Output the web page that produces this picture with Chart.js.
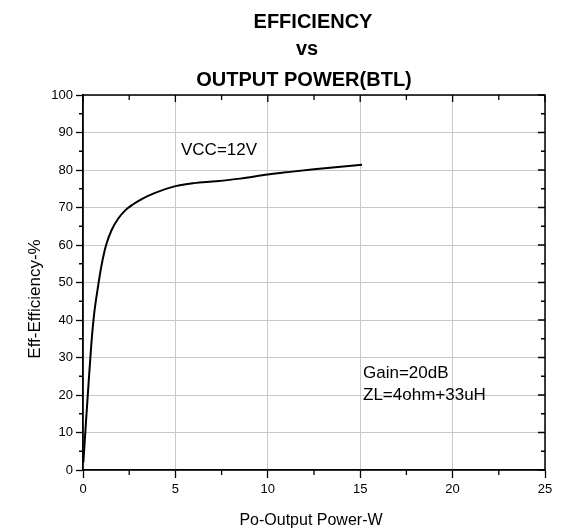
<!DOCTYPE html>
<html>
<head>
<meta charset="utf-8">
<script src="https://cdn.jsdelivr.net/npm/chart.js@4/dist/chart.umd.min.js"></script>
<style>
    html, body { margin: 0; padding: 0; background: #fff; }
    canvas { display: block; }
</style>
</head>
<body>
<canvas id="eff_chart" width="566" height="529"></canvas>
<script>
// values
const output_power = [0.02, 0.15, 0.3, 0.45, 0.6, 0.8, 1.0, 1.25, 1.55, 1.9, 2.3, 2.7, 3.2, 3.9, 5.0, 6.0, 7.2, 8.5, 10.0, 11.2, 12.5, 13.8, 15.1]
const efficiency = [2, 12, 23, 33.5, 41.5, 48.5, 54.5, 60, 64, 67, 69.3, 70.8, 72.3, 73.9, 75.7, 76.5, 77.0, 77.7, 78.8, 79.5, 80.2, 80.8, 81.4]

const x_ticks = [0, 5, 10, 15, 20, 25]
const y_ticks = [0, 10, 20, 30, 40, 50, 60, 70, 80, 90, 100]

const title_lines = ["EFFICIENCY", "vs", "OUTPUT POWER(BTL)"]
const x_title = "Po-Output Power-W"
const y_title = "Eff-Efficiency-%"
const notes = ["VCC=12V", "Gain=20dB", "ZL=4ohm+33uH"]

const FONT = "'Liberation Sans', Arial, sans-serif"

// frame, mirrored ticks, minor ticks and all free text
const decorPlugin = {
    id: "decor",
    afterDraw(chart) {
        const ctx = chart.ctx
        const area = chart.chartArea
        const xs = chart.scales.x
        const ys = chart.scales.y
        ctx.save()

        // top and right frame
        ctx.strokeStyle = "#000"
        ctx.lineWidth = 1.5
        ctx.beginPath()
        ctx.moveTo(area.left, area.top)
        ctx.lineTo(area.right, area.top)
        ctx.lineTo(area.right, area.bottom)
        ctx.stroke()

        ctx.lineWidth = 1.3
        ctx.beginPath()
        // x: major ticks mirrored on top, minor ticks both sides
        for (let v = 0; v <= 25; v += 2.5) {
            const px = xs.getPixelForValue(v)
            const major = v % 5 === 0
            if (!major) {
                ctx.moveTo(px, area.bottom)
                ctx.lineTo(px, area.bottom + 5)
            }
            ctx.moveTo(px, area.top)
            ctx.lineTo(px, area.top + (major ? 7 : 5))
        }
        // y: major ticks mirrored on right, minor ticks both sides
        for (let v = 0; v <= 100; v += 5) {
            const py = ys.getPixelForValue(v)
            const major = v % 10 === 0
            if (!major) {
                ctx.moveTo(area.left, py)
                ctx.lineTo(area.left - 4, py)
            }
            ctx.moveTo(area.right, py)
            ctx.lineTo(area.right - (major ? 7 : 4), py)
        }
        ctx.stroke()

        ctx.fillStyle = "#000"
        ctx.textBaseline = "alphabetic"

        // title
        ctx.textAlign = "center"
        ctx.font = "bold 20px " + FONT
        ctx.fillText(title_lines[0], 313, 28)
        ctx.fillText(title_lines[1], 307, 55)
        ctx.fillText(title_lines[2], 304, 86)

        // axis titles
        ctx.font = "16px " + FONT
        ctx.fillText(x_title, 311, 525)
        ctx.save()
        ctx.translate(40, 299)
        ctx.rotate(-Math.PI / 2)
        ctx.font = "17px " + FONT
        ctx.fillText(y_title, 0, 0)
        ctx.restore()

        // notes
        ctx.textAlign = "left"
        ctx.textBaseline = "middle"
        ctx.font = "17px " + FONT
        ctx.fillText(notes[0], 181, 150)
        ctx.fillText(notes[1], 363, 373)
        ctx.fillText(notes[2], 363, 395)

        ctx.restore()
    }
}

const ctx_eff = document.getElementById("eff_chart").getContext("2d")
const eff_chart = new Chart(ctx_eff, {
    type: "line",
    data: {
        datasets: [{
            label: "Efficiency",
            data: output_power.map((p, i) => ({x: p, y: efficiency[i]})),
            borderColor: "#000",
            borderWidth: 2,
            pointRadius: 0,
            cubicInterpolationMode: "monotone",
            fill: false
        }]
    },
    options: {
        responsive: false,
        animation: false,
        devicePixelRatio: 1,
        layout: {
            padding: {top: 95, right: 21, left: 0, bottom: 0}
        },
        plugins: {
            legend: {display: false},
            tooltip: {enabled: false}
        },
        scales: {
            x: {
                type: "linear",
                min: 0,
                max: 25,
                afterBuildTicks: (scale) => { scale.ticks = x_ticks.map(v => ({value: v})) },
                afterFit: (scale) => { scale.height = 59 },
                ticks: {
                    color: "#000",
                    font: {family: FONT, size: 13},
                    padding: 4,
                    maxRotation: 0
                },
                grid: {
                    color: "#c8c8c8",
                    lineWidth: 1,
                    tickLength: 8,
                    tickColor: "#000",
                    tickWidth: 1.3
                },
                border: {color: "#000", width: 1.8}
            },
            y: {
                type: "linear",
                min: 0,
                max: 100,
                afterBuildTicks: (scale) => { scale.ticks = y_ticks.map(v => ({value: v})) },
                afterFit: (scale) => { scale.width = 83 },
                ticks: {
                    color: "#000",
                    font: {family: FONT, size: 13},
                    padding: 3
                },
                grid: {
                    color: "#c8c8c8",
                    lineWidth: 1,
                    tickLength: 7,
                    tickColor: "#000",
                    tickWidth: 1.3
                },
                border: {color: "#000", width: 1.8}
            }
        }
    },
    plugins: [decorPlugin]
})
</script>
</body>
</html>
